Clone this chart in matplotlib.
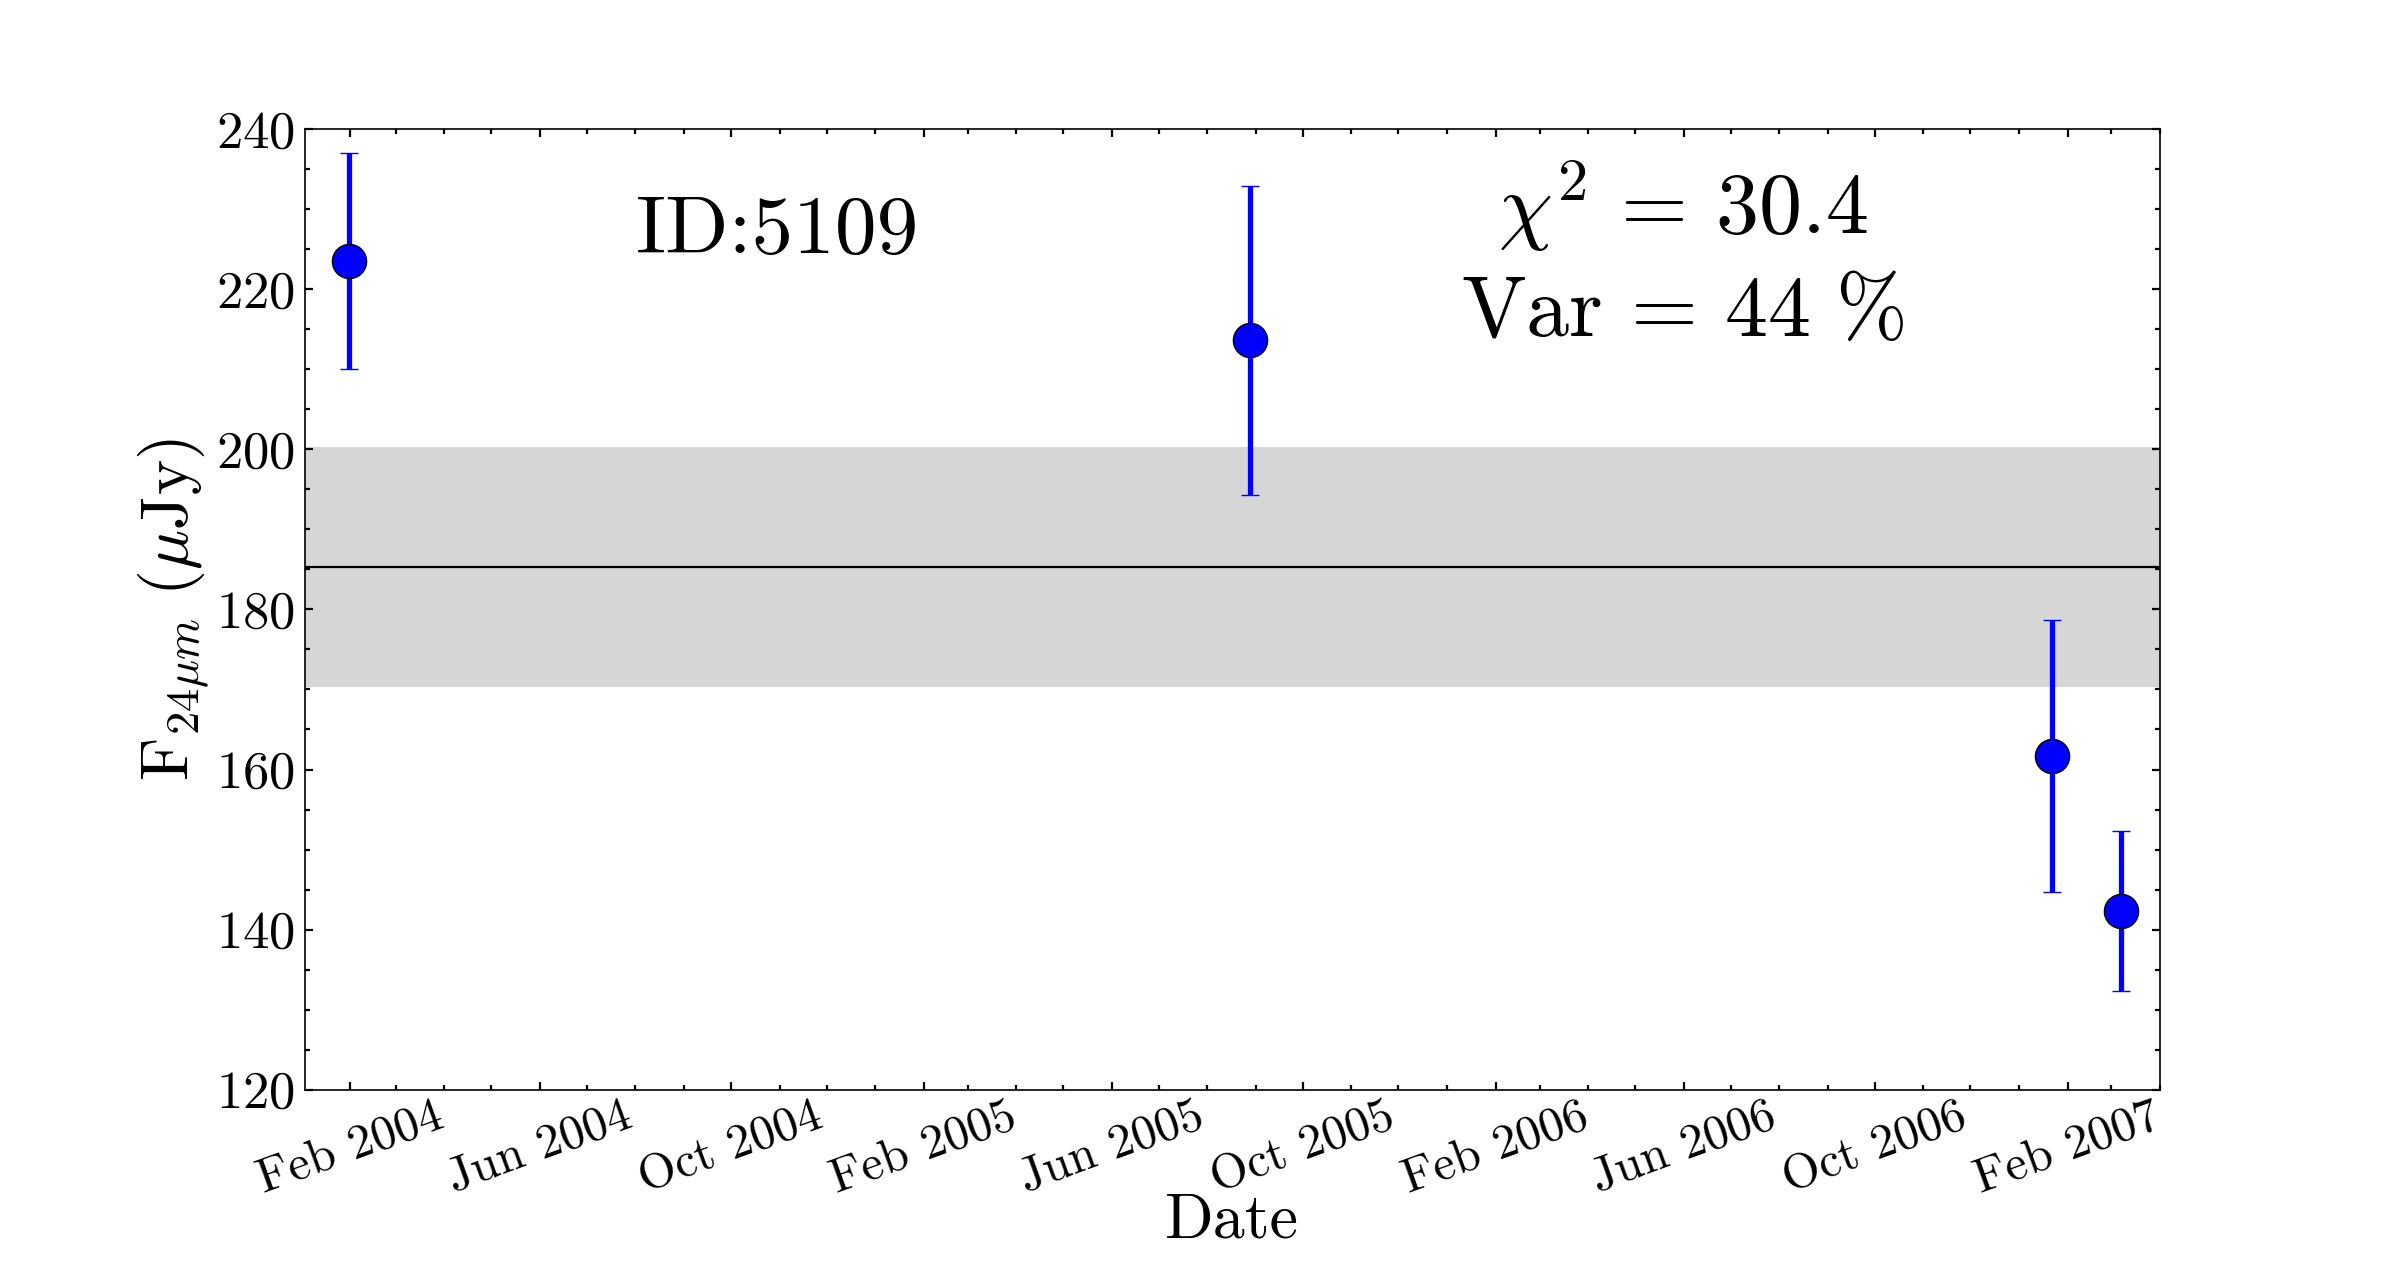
import matplotlib
matplotlib.use("Agg")
import matplotlib.pyplot as plt
import matplotlib.dates as mdates
import numpy as np
import pandas as pd

# ---- data ----
obs_dates = ["2004-01-31", "2005-08-28", "2007-01-22", "2007-03-07"]
flux = [223.5, 213.6, 161.7, 142.3]
flux_err = [13.5, 19.3, 17.0, 10.0]
mean_flux = 185.3
mean_spread = 15.0
source_id = "5109"
chi2 = 30.4
var_pct = 44
x_limits = ["2004-01-03", "2007-04-01"]
y_limits = [120, 240]

plt.rcParams["font.family"] = ["cmr10", "DejaVu Serif"]
plt.rcParams["mathtext.fontset"] = "cm"
plt.rcParams["axes.formatter.use_mathtext"] = True

dates = pd.to_datetime(obs_dates)

fig = plt.figure(figsize=(12, 6.425), dpi=200)
ax = fig.add_axes([0.127, 0.152, 0.773, 0.7475])

ax.axhspan(mean_flux - mean_spread, mean_flux + mean_spread, color="#d6d6d6", lw=0, zorder=0)
ax.axhline(mean_flux, color="black", lw=0.8, zorder=1)

eb = ax.errorbar(dates, flux, yerr=flux_err, fmt="o", color="blue", ecolor="blue",
                 elinewidth=1.9, capsize=3.1, capthick=0.5, ms=12.3,
                 mfc="blue", mec="black", mew=0.5, zorder=3)
for cap in eb[1]:
    cap.set_color("#7a7aff")

ax.set_xlim(pd.to_datetime(x_limits[0]), pd.to_datetime(x_limits[1]))
ax.set_ylim(*y_limits)

ax.xaxis.set_major_locator(mdates.MonthLocator(bymonth=[2, 6, 10]))
ax.xaxis.set_minor_locator(mdates.MonthLocator())
ax.xaxis.set_major_formatter(mdates.DateFormatter("%b %Y"))
ax.yaxis.set_major_locator(matplotlib.ticker.MultipleLocator(20))
ax.yaxis.set_minor_locator(matplotlib.ticker.MultipleLocator(5))

ax.tick_params(which="both", direction="in", top=True, right=True, width=0.8)
ax.tick_params(which="major", length=3.0)
ax.tick_params(which="minor", length=1.8)
ax.tick_params(axis="y", labelsize=19)
ax.tick_params(axis="x", labelsize=17.5, pad=1.5)
for lab in ax.get_xticklabels():
    lab.set_rotation(20)
    lab.set_ha("center")

for s in ax.spines.values():
    s.set_linewidth(0.6)
    s.set_color("black")

ax.set_xlabel("Date", fontsize=23, labelpad=-3.5)
ax.set_ylabel(r"$\mathrm{F}_{24\mu m}\ (\mu\mathrm{Jy})$", fontsize=24, labelpad=2)

ax.text(0.255, 0.893, "ID:" + source_id, transform=ax.transAxes, fontsize=30,
        ha="center", va="center")
ax.text(0.743, 0.868, r"$\chi^2\,=\,%.1f$" % chi2 + "\n" + r"$\mathrm{Var}\,=\,%d\ \%%$" % var_pct,
        transform=ax.transAxes, fontsize=31, ha="center", va="center", linespacing=1.35)

fig.savefig("out.png", dpi=200)
